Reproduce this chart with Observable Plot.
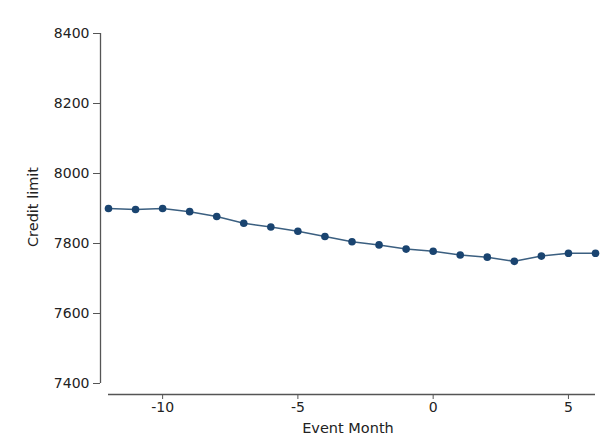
<!DOCTYPE html>
<html>
<head>
<meta charset="utf-8">
<script src="https://cdn.jsdelivr.net/npm/d3@7"></script>
<script src="https://cdn.jsdelivr.net/npm/@observablehq/plot@0.6"></script>
<style>
  html, body { margin: 0; padding: 0; background: #fff; }
  svg { font-family: "DejaVu Sans", sans-serif; }
</style>
</head>
<body>
<div id="chart"></div>
<script>
const months = [-12, -11, -10, -9, -8, -7, -6, -5, -4, -3, -2, -1, 0, 1, 2, 3, 4, 5, 6];
const creditLimit = [7900, 7897, 7900, 7891, 7877, 7858, 7847, 7835, 7820, 7805, 7796, 7784, 7778, 7767, 7761, 7749, 7764, 7772, 7772];
const xTicks = [-10, -5, 0, 5];
const yTicks = [7400, 7600, 7800, 8000, 8200, 8400];

const data = months.map((m, i) => ({month: m, value: creditLimit[i]}));

const axisColor = "#555";
const chart = Plot.plot({
  width: 610,
  height: 440,
  marginLeft: 100,
  marginRight: 15,
  marginTop: 33,
  marginBottom: 46,
  style: {fontFamily: "DejaVu Sans, sans-serif", fontSize: "14px", color: "#222", background: "#fff"},
  x: {domain: [-12, 6], range: [108, 595]},
  y: {domain: [7400, 8400], range: [383, 33]},
  marks: [
    Plot.ruleX([-12], {y1: 7400, y2: 8400, dx: -8, stroke: axisColor, strokeWidth: 1.3}),
    Plot.ruleY([7400], {x1: -12, x2: 6, dy: 11, stroke: axisColor, strokeWidth: 1.3}),
    Plot.axisY(yTicks, {anchor: "left", tickSize: 7, tickPadding: 4, tickFormat: d => String(d), stroke: axisColor, fill: "#222", fontSize: 14, label: null}),
    Plot.axisX(xTicks, {anchor: "bottom", tickSize: 5, tickPadding: 3, tickFormat: d => String(d), stroke: axisColor, fill: "#222", fontSize: 14, label: null}),
    Plot.text(["Credit limit"], {frameAnchor: "left", textAnchor: "middle", lineAnchor: "middle", dx: -67, dy: -7, rotate: -90, fontSize: 14.5, fill: "#222"}),
    Plot.text(["Event Month"], {frameAnchor: "bottom", dy: 38, fontSize: 14.5, fill: "#222"}),
    Plot.line(data, {x: "month", y: "value", stroke: "#3b5f80", strokeWidth: 1.5}),
    Plot.dot(data, {x: "month", y: "value", r: 3.8, fill: "#1a4470", stroke: "none"})
  ]
});
document.getElementById("chart").append(chart);
</script>
</body>
</html>
